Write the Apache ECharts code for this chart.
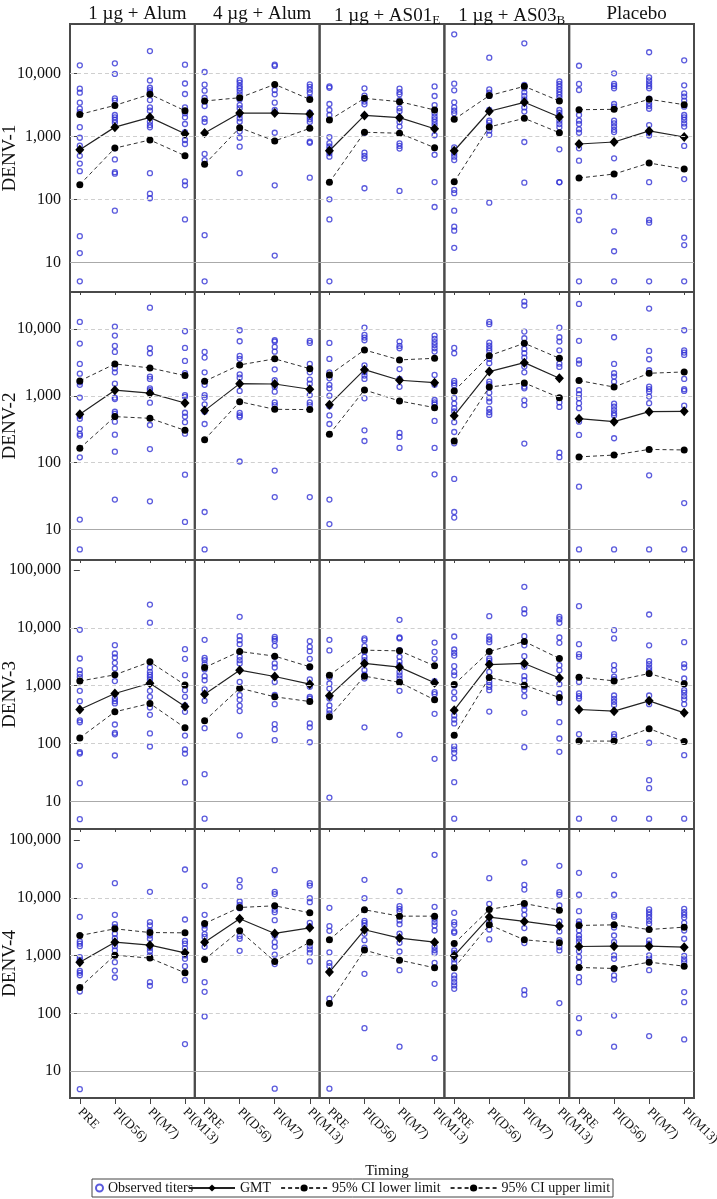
<!DOCTYPE html>
<html>
<head>
<meta charset="utf-8">
<script src="https://cdn.jsdelivr.net/npm/echarts@6/dist/echarts.min.js"></script>
<style>
  html, body { margin: 0; padding: 0; background: #fff; }
  #main { width: 717px; height: 1199px; }
</style>
</head>
<body>
<div id="main"></div>
<script>
// panels: rows = serotype, columns = study group
var groups = ['1 µg + Alum', '4 µg + Alum', '1 µg + AS01{sub|E}', '1 µg + AS03{sub|B}', 'Placebo'];
var serotypes = ['DENV-1', 'DENV-2', 'DENV-3', 'DENV-4'];
var timing = ['PRE', 'PI(D56)', 'PI(M7)', 'PI(M13)'];

// observed titers: [group][timepoint][subjects]
var titersD1 = [
  [[13400,5700,4930,3420,2750,2430,1400,950,710,490,370,280,26,14,5],
   [14400,9800,4000,3700,2180,2000,1820,1650,645,430,270,255,66],
   [22600,7700,5900,5400,5000,3770,2890,2550,1710,1510,1390,260,123,104],
   [13700,6900,4700,2880,2320,2000,1570,1170,875,755,193,167,48]],
  [[10500,6600,5300,4100,3030,1900,1690,525,420,27,5],
   [7800,7100,6300,5800,5250,4650,3860,3140,2790,2210,1930,1710,1190,950,685,260],
   [13700,13100,5440,4650,3420,2620,1140,167,12.8],
   [6700,6100,5500,4900,4150,2370,2050,1860,1690,820,790,221]],
  [[6200,5900,3260,2620,2180,975,780,690,620,540,475,100,48,5],
   [5780,4430,3920,3560,3220,2150,1140,550,490,445,150],
   [5700,5050,4650,3770,2790,2500,2000,1690,1430,775,705,640,136],
   [6200,4370,3140,2320,2050,1860,1690,1510,1040,510,188,75.5]],
  [[41600,6850,5370,3470,2880,2550,2320,668,530,475,420,141,125,66,36.8,31.8,17],
   [17700,5560,4930,4380,2620,1770,1650,1460,1230,1060,88.5],
   [30000,6530,5780,5000,4380,3860,2880,2470,813,184],
   [7470,6770,6150,5560,5050,4590,4160,2620,2370,2150,1770,1570,1390,623,188,186]],
  [[13200,6780,5440,2180,1770,1570,1290,1140,646,411,63.7,47,5],
   [10000,6780,6300,5780,3260,2960,1770,1600,1430,1270,1170,448,110,31,15,5],
   [21600,8640,7730,6930,6300,5780,3960,3340,3030,2740,1510,1140,1030,187,47,42.6,5],
   [16100,6450,4810,4270,3690,2960,2180,2000,1820,1600,1430,703,210,24.7,18.8,5]]
];
var titersD2 = [
  [[12900,6100,3020,2160,1600,1470,945,500,455,320,270,255,120,14,5],
   [10960,8040,5620,4570,2600,2260,1530,945,900,580,540,412,263,146,27.9],
   [21100,5190,4370,1950,1800,1300,1220,794,367,160,26.3],
   [9330,5250,3350,2200,1030,970,560,490,405,272,66,12.9]],
  [[4570,3760,2260,1470,1030,945,750,580,380,18.2,5],
   [9660,6610,3980,3600,2110,1880,1190,556,510,482,104],
   [6840,6530,5430,4620,2510,1720,1380,1160,800,730,76,30.5],
   [6700,6240,3020,2260,1760,1530,1030,800,730,30.5]],
  [[6240,3590,2260,1840,1470,1300,1010,700,510,380,27.9,12],
   [10600,8220,7500,6840,2880,2260,2020,1800,920,305,211],
   [6530,5620,5190,2530,1800,1370,279,243,166],
   [8040,7160,6400,5800,5190,4630,2070,1470,870,800,750,422,166,66.8]],
  [[5250,4370,1680,1560,1440,1190,925,770,656,585,405,288,195,57,18.2,15],
   [12900,11900,6310,5700,5190,4730,4020,3600,3100,1640,1500,1120,925,820,640,570,520],
   [26000,22700,9230,7330,6100,5070,4370,3760,2760,2260,1380,1300,860,730,193],
   [10600,7590,6530,4840,3050,2720,800,684,141,121]],
  [[24000,6700,3430,3050,1220,1060,925,780,656,412,260,43.7,5],
   [7590,3020,2190,1950,1640,767,690,615,550,510,232,5],
   [20400,4730,3550,2430,1380,1270,1160,980,780,64.6,5],
   [9660,4840,4470,4130,1800,1260,1190,716,24.8,5]]
];
var titersD3 = [
  [[9240,2950,1860,1590,1410,815,540,252,233,70.6,67,20.6,4.9],
   [5010,3600,3070,2480,1980,1200,600,540,492,213,153,144,62],
   [25300,12300,2060,1730,1550,1410,1270,815,641,419,313,149,88.7],
   [4280,2910,1520,836,641,457,353,137,78.7,67,21.2]],
  [[6210,3020,2750,2360,1910,1460,1240,860,547,184,29.5,5],
   [15500,7180,6120,5210,3150,2760,2420,1160,685,569,450,363,138],
   [6990,6460,5960,4880,3150,2420,2060,1160,690,478,216,177,114],
   [5880,4690,3950,2910,2060,1280,955,641,600,222,190,105]],
  [[6210,4060,1380,1090,890,600,454,378,330,11.6],
   [6550,6120,4820,3850,3150,2760,2420,1850,1550,1330,190],
   [13750,6810,6550,4110,3150,2610,2260,1730,1510,1330,815,141],
   [5570,3850,2910,1200,773,712,326,54.3]],
  [[7080,4220,3700,3320,2170,1730,1510,1010,773,600,305,260,222,90,79,69,55.7,21.4,5],
   [15900,7080,6280,5640,2950,2700,2420,1730,1160,1030,950,836,357],
   [51200,21000,17700,7180,4980,3240,2130,1460,1240,950,836,659,339,86.5],
   [15500,14100,12200,6800,5500,2260,1850,1060,733,512,234,122,71.8]],
  [[23700,5220,3510,3150,1160,733,659,600,145,5],
   [9120,6550,2260,1850,1430,1300,676,593,527,465,145,131,5],
   [17000,4980,2660,2360,2060,1850,1610,676,478,103,23.2,16.9,5],
   [5640,2360,2060,1330,836,757,659,580,478,62.8,5]]
];
var titersD4 = [
  [[35700,4690,1760,1610,1460,942,840,771,547,505,458,240,4.9],
   [17900,5080,3500,3120,2390,2000,1460,1230,771,552,419],
   [12700,3800,3330,2720,2230,1960,1350,1190,1010,348,300],
   [30900,4220,1800,1610,1350,1010,880,658,377,29.5]],
  [[16100,5080,3330,2910,2360,2110,1420,348,237,88.7],
   [20200,15500,8640,7570,6630,2180,1960,1210],
   [30100,12700,11600,6200,5650,4110,2210,1710,1420,1040,714,5],
   [17900,16300,9870,8410,3700,3190,1460,1280,1110,793]],
  [[6710,3240,2690,1140,751,658,180,5],
   [20500,9870,4000,3700,3330,2390,1850,1380,485,55.7],
   [13000,7180,6450,5800,4060,3500,2390,1670,1180,561,26.6],
   [55400,7000,4330,3800,3330,2720,1410,1240,1110,751,326,16.9]],
  [[5510,3800,3410,2620,2490,1230,1110,860,741,454,400,348,306,267],
   [21900,7880,3900,3410,2830,1910],
   [40800,16800,13900,7370,6200,5080,3000,1650,253,211],
   [35700,12500,11300,7370,3900,3240,2620,1860,1410,1230,151]],
  [[27100,11300,5880,3900,3550,2720,2230,1960,1720,1190,948,771,425,348,83,46.4],
   [24700,11300,5080,4690,3070,2230,1720,1010,880,454,385,92,26.6],
   [6290,5650,5080,4560,4000,3550,1830,1610,1010,906,771,561,40.6],
   [6450,5650,5080,4560,3700,2720,1960,990,860,771,234,157,35.5]]
];

// GMT and 95% CI: [group][timepoint]
var gmtD1 = [[614,1400,2000,1100],[1130,2340,2340,2260],[590,2150,1980,1320],[590,2500,3470,2030],[755,813,1220,975]];
var ciLowD1 = [[171,650,875,493],[360,1370,845,1340],[186,1160,1120,660],[190,1410,1930,1140],[218,252,377,303]];
var ciUpD1 = [[2230,3100,4650,2550],[3640,4100,6680,3860],[1820,4010,3550,2620],[1860,4430,6220,3640],[2650,2680,3870,3180]];

var gmtD2 = [[530,1220,1100,785],[603,1530,1510,1260],[741,2480,1720,1580],[507,2320,3160,1840],[457,412,582,589]];
var ciLowD2 = [[164,490,462,305],[221,820,630,625],[266,1230,841,668],[211,1360,1570,944],[122,130,158,155]];
var ciUpD2 = [[1680,3020,2630,2020],[1660,2920,3600,2560],[2070,4900,3470,3670],[1190,4020,6170,3670],[1700,1360,2190,2290]];

var gmtD3 = [[387,733,1100,437],[712,1850,1440,1060],[667,2420,2090,1120],[377,2320,2420,1360],[387,362,547,339]];
var ciLowD3 = [[125,353,492,187],[247,905,641,532],[289,1460,1140,569],[139,1380,1020,624],[110,110,180,108]];
var ciUpD3 = [[1200,1540,2580,1030],[2060,3900,3240,2120],[1520,4110,4000,2200],[1050,3900,5810,2950],[1400,1210,1620,1080]];

var gmtD4 = [[771,1710,1520,1120],[1710,4340,2420,3030],[519,2800,2010,1710],[1000,4640,3900,3240],[1440,1460,1460,1400]];
var ciLowD4 = [[282,1020,906,505],[860,2690,793,1710],[149,1250,836,616],[616,3410,1880,1670],[624,600,771,658]];
var ciUpD4 = [[2230,2910,2510,2480],[3600,6810,7280,5510],[1880,6210,4820,4820],[1620,6290,7980,6120],[3330,3410,2830,3110]];

var titers = [titersD1, titersD2, titersD3, titersD4];
var gmts = [gmtD1, gmtD2, gmtD3, gmtD4];
var ciLows = [ciLowD1, ciLowD2, ciLowD3, ciLowD4];
var ciUps = [ciUpD1, ciUpD2, ciUpD3, ciUpD4];

var myChart = echarts.init(document.getElementById('main'));

var serif = '"Liberation Serif", "DejaVu Serif", serif';
var blue = '#3232d4';
var rowTop = [24, 292, 560, 829];
var rowHeight = [268, 268, 269, 269];
var yMin = [3.38, 3.47, 3.32, 3.45];
var yMax = [60700, 36200, 149000, 155000];
var colLeft = 70, colWidth = 124.8;

function powLabel(v) {
  var l = Math.log10(v);
  if (Math.abs(l - Math.round(l)) > 1e-6) return '';
  return Math.round(v).toLocaleString('en-US');
}
function toPoints(arr) {
  return arr.map(function (v, t) { return [t, v]; });
}

var option = {
  animation: false,
  backgroundColor: '#fff',
  title: [],
  grid: [],
  xAxis: [],
  yAxis: [],
  series: [],
  legend: [
    {
      left: 95, top: 1181, padding: 0,
      itemWidth: 7, itemHeight: 7,
      data: ['Observed titers'],
      textStyle: { fontFamily: serif, fontSize: 14, color: '#111' }
    },
    {
      left: 188, top: 1181, padding: 0,
      itemWidth: 46, itemHeight: 9, itemGap: 9,
      data: ['GMT', '95% CI lower limit', '95% CI upper limit'],
      textStyle: { fontFamily: serif, fontSize: 14, color: '#111' }
    }
  ],
  graphic: [{
    type: 'rect',
    shape: { x: 92, y: 1179, width: 521, height: 18 },
    style: { fill: 'none', stroke: '#444', lineWidth: 1 }
  }]
};

groups.forEach(function (g, c) {
  option.title.push({
    text: g,
    left: colLeft + colWidth * (c + 0.5),
    top: 0,
    textAlign: 'center',
    textStyle: {
      fontFamily: serif, fontSize: 19, fontWeight: 'normal', color: '#111',
      rich: { sub: { fontFamily: serif, fontSize: 13, verticalAlign: 'bottom', padding: [9, 0, 0, 0] } }
    }
  });
});
option.title.push({
  text: 'Timing',
  left: 382, top: 1159,
  textAlign: 'center',
  textStyle: { fontFamily: serif, fontSize: 15, fontWeight: 'normal', color: '#111' }
});

serotypes.forEach(function (sero, r) {
  groups.forEach(function (g, c) {
    var i = r * groups.length + c;
    var bottomRow = r === serotypes.length - 1;

    option.grid.push({
      left: colLeft + c * colWidth, top: rowTop[r],
      width: colWidth, height: rowHeight[r],
      show: true, borderColor: '#4a4a4a', borderWidth: 2,
      outerBoundsMode: 'none'
    });

    option.xAxis.push({
      type: 'value', gridIndex: i,
      min: -0.28, max: 3.28,
      axisLine: { show: false },
      splitLine: { show: false },
      axisTick: { show: true, length: bottomRow ? 6 : 3, customValues: [0, 1, 2, 3], lineStyle: { color: '#444' } },
      axisLabel: {
        show: bottomRow, customValues: [0, 1, 2, 3],
        rotate: -45, margin: 12,
        fontFamily: serif, fontSize: 13, color: '#111',
        formatter: function (v) { return timing[Math.round(v)]; }
      }
    });

    option.yAxis.push({
      type: 'log', logBase: 10, gridIndex: i,
      min: yMin[r], max: yMax[r],
      name: c === 0 ? sero : '',
      nameLocation: 'middle', nameGap: 50,
      nameMoveOverlap: false,
      nameTextStyle: { fontFamily: serif, fontSize: 19, color: '#111' },
      axisLine: { show: false },
      splitLine: { show: false },
      minorTick: { show: false },
      axisTick: { show: c === 0, length: 6, lineStyle: { color: '#444' } },
      axisLabel: {
        show: c === 0, margin: 9,
        fontFamily: serif, fontSize: 16, color: '#111',
        formatter: powLabel
      }
    });

    var pts = [];
    titers[r][c].forEach(function (vals, t) {
      vals.forEach(function (v) { pts.push([t, v]); });
    });

    option.series.push({
      type: 'scatter', name: 'Observed titers',
      xAxisIndex: i, yAxisIndex: i, z: 2,
      symbol: 'circle', symbolSize: 5,
      itemStyle: { color: 'rgba(255,255,255,0)', borderColor: blue, borderWidth: 1.3 },
      data: pts,
      markLine: {
        silent: true, symbol: 'none', label: { show: false },
        lineStyle: { type: [4, 3], color: '#cfcfcf', width: 1 },
        data: [
          { yAxis: 10, lineStyle: { type: 'solid', color: '#aaa', width: 1 } },
          { yAxis: 100 }, { yAxis: 1000 }, { yAxis: 10000 }
        ]
      }
    });
    option.series.push({
      type: 'line', name: 'GMT',
      xAxisIndex: i, yAxisIndex: i, z: 4,
      symbol: 'diamond', symbolSize: [9, 10],
      itemStyle: { color: '#000' },
      lineStyle: { color: '#222', width: 1.2 },
      data: toPoints(gmts[r][c])
    });
    option.series.push({
      type: 'line', name: '95% CI lower limit',
      xAxisIndex: i, yAxisIndex: i, z: 3,
      symbol: 'circle', symbolSize: 7,
      itemStyle: { color: '#000' },
      lineStyle: { color: '#333', width: 1, type: [4, 3] },
      data: toPoints(ciLows[r][c])
    });
    option.series.push({
      type: 'line', name: '95% CI upper limit',
      xAxisIndex: i, yAxisIndex: i, z: 3,
      symbol: 'circle', symbolSize: 7,
      itemStyle: { color: '#000' },
      lineStyle: { color: '#333', width: 1, type: [4, 3] },
      data: toPoints(ciUps[r][c])
    });
  });
});

myChart.setOption(option);
</script>
</body>
</html>
